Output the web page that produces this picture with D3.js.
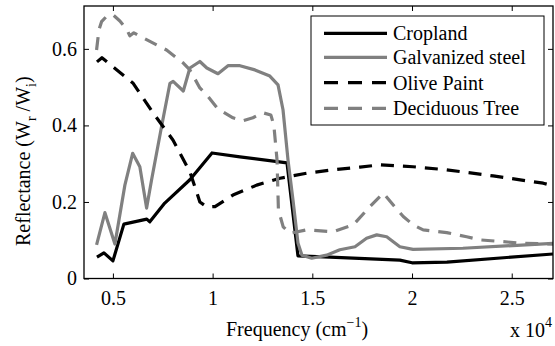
<!DOCTYPE html>
<html>
<head>
  <meta charset="utf-8">
  <script src="https://d3js.org/d3.v7.min.js"></script>
</head>
<body style="margin:0">
<script>
  // frequency (cm^-1), reflectance
  var cropland = [[4200,0.056],[4550,0.067],[5000,0.046],[5550,0.142],[6700,0.155],[6850,0.148],
    [7600,0.197],[8860,0.258],[9970,0.328],[11370,0.318],[13730,0.302],[14280,0.059],
    [15880,0.056],[19390,0.048],[20000,0.041],[21750,0.043],[27070,0.064]];
  var steel = [[4180,0.088],[4600,0.172],[5100,0.090],[5600,0.244],[5990,0.327],[6350,0.292],
    [6690,0.184],[6940,0.258],[7440,0.397],[7860,0.510],[8020,0.515],[8530,0.490],[8860,0.550],
    [9360,0.567],[9710,0.550],[10270,0.535],[10770,0.556],[11370,0.556],[12120,0.545],
    [12870,0.529],[13280,0.506],[13530,0.441],[13780,0.310],[14030,0.205],[14280,0.093],
    [14480,0.061],[14970,0.053],[15720,0.061],[16380,0.075],[17140,0.083],[17720,0.105],
    [18230,0.114],[18730,0.109],[19390,0.083],[20050,0.076],[22550,0.079],[27070,0.092]];
  var olive = [[4200,0.566],[4450,0.577],[5000,0.553],[6000,0.511],[7010,0.433],[8010,0.362],
    [8860,0.279],[9360,0.200],[9710,0.187],[10120,0.188],[11020,0.218],[12210,0.244],
    [13380,0.262],[14710,0.275],[16050,0.284],[17390,0.291],[18390,0.297],[20050,0.292],
    [21740,0.284],[24070,0.268],[26580,0.249],[27070,0.242]];
  var tree = [[4180,0.597],[4300,0.650],[4430,0.671],[4700,0.686],[5000,0.689],[5350,0.673],
    [5700,0.650],[5850,0.634],[6050,0.642],[6500,0.629],[7690,0.597],[8530,0.563],[8860,0.545],
    [9360,0.498],[9700,0.480],[10270,0.443],[11020,0.420],[11520,0.412],[12020,0.420],
    [12520,0.433],[12920,0.427],[13070,0.401],[13230,0.310],[13300,0.179],[13540,0.135],
    [13880,0.118],[14710,0.127],[16050,0.122],[17050,0.140],[17890,0.188],[18560,0.223],
    [19060,0.192],[19560,0.162],[20060,0.140],[20560,0.127],[21740,0.120],[22740,0.109],
    [23400,0.101],[25580,0.092],[27070,0.090]];

  var seriesNames = ["Cropland", "Galvanized steel", "Olive Paint", "Deciduous Tree"];
  var seriesData = [cropland, steel, olive, tree];
  var seriesColor = ["#000", "#808080", "#000", "#808080"];
  var seriesDash = [null, null, "13 9", "13 9"];

  var xTicks = [5000, 10000, 15000, 20000, 25000];
  var xTickLabels = ["0.5", "1", "1.5", "2", "2.5"];
  var yTicks = [0, 0.2, 0.4, 0.6];
  var yTickLabels = ["0", "0.2", "0.4", "0.6"];

  var W = 555, H = 346;
  var L = 84, R = 553, T = 6, B = 278.5;
  var serif = "'Times New Roman', 'Liberation Serif', serif";

  var x = d3.scaleLinear().domain([3550, 27070]).range([L, R]);
  var y = d3.scaleLinear().domain([0, 0.712]).range([B, T]);

  var svg = d3.select("body").append("svg").attr("width", W).attr("height", H);

  svg.append("clipPath").attr("id", "clip")
    .append("rect").attr("x", L).attr("y", T).attr("width", R - L).attr("height", B - T);

  var line = d3.line().x(function (d) { return x(d[0]); }).y(function (d) { return y(d[1]); });

  var lines = svg.append("g").attr("clip-path", "url(#clip)");
  [0, 1, 2, 3].forEach(function (i) {
    lines.append("path")
      .attr("d", line(seriesData[i]))
      .attr("fill", "none")
      .attr("stroke", seriesColor[i])
      .attr("stroke-width", 3.2)
      .attr("stroke-linejoin", "round")
      .attr("stroke-dasharray", seriesDash[i]);
  });

  // axes
  var xAxis = d3.axisBottom(x).tickValues(xTicks).tickSizeInner(-5).tickSizeOuter(0)
    .tickFormat(function (d, i) { return xTickLabels[i]; }).tickPadding(12);
  var gx = svg.append("g").attr("transform", "translate(0," + B + ")").call(xAxis);
  var gxt = svg.append("g").attr("transform", "translate(0," + T + ")")
    .call(d3.axisTop(x).tickValues(xTicks).tickSizeInner(-5).tickSizeOuter(0).tickFormat(""));
  var yAxis = d3.axisLeft(y).tickValues(yTicks).tickSizeInner(-5).tickSizeOuter(0)
    .tickFormat(function (d, i) { return yTickLabels[i]; }).tickPadding(7);
  var gy = svg.append("g").attr("transform", "translate(" + L + ",0)").call(yAxis);
  var gyr = svg.append("g").attr("transform", "translate(" + R + ",0)")
    .call(d3.axisRight(y).tickValues(yTicks).tickSizeInner(-5).tickSizeOuter(0).tickFormat(""));
  [gx, gxt, gy, gyr].forEach(function (g) {
    g.select(".domain").remove();
    g.selectAll("line").attr("stroke", "#000").attr("stroke-width", 1);
    g.selectAll("text").style("font-family", serif).style("font-size", "20px").attr("fill", "#000");
  });

  svg.append("rect").attr("x", L).attr("y", T).attr("width", R - L).attr("height", B - T)
    .attr("fill", "none").attr("stroke", "#000").attr("stroke-width", 1.3);

  function txt(parent) {
    return parent.append("text").style("font-family", serif).style("font-size", "20px");
  }

  // axis labels
  var xl = txt(svg).attr("x", 226).attr("y", 336);
  xl.append("tspan").text("Frequency (cm");
  xl.append("tspan").attr("dy", -9).style("font-size", "14px").text("\u22121");
  xl.append("tspan").attr("dy", 9).text(")");

  var xm = txt(svg).attr("x", 510).attr("y", 337);
  xm.append("tspan").text("x 10");
  xm.append("tspan").attr("dy", -10).style("font-size", "14px").text("4");

  var yl = txt(svg).attr("transform", "translate(30,246) rotate(-90)");
  yl.append("tspan").text("Reflectance (W");
  yl.append("tspan").attr("dy", 6).style("font-size", "14px").text("r");
  yl.append("tspan").attr("dy", -6).text(" /W");
  yl.append("tspan").attr("dy", 6).style("font-size", "14px").text("i");
  yl.append("tspan").attr("dy", -6).text(")");

  // legend
  var lg = svg.append("g");
  lg.append("rect").attr("x", 311).attr("y", 16).attr("width", 233).attr("height", 109)
    .attr("fill", "#fff").attr("stroke", "#000").attr("stroke-width", 1);
  var rowY = [33.3, 57.3, 82.7, 108.3];
  seriesNames.forEach(function (name, i) {
    lg.append("line").attr("x1", 324).attr("x2", 387).attr("y1", rowY[i]).attr("y2", rowY[i])
      .attr("stroke", seriesColor[i]).attr("stroke-width", 3.2)
      .attr("stroke-dasharray", seriesDash[i] ? "14 10" : null);
    txt(lg).attr("x", 393).attr("y", rowY[i] + 7).text(name);
  });
</script>
</body>
</html>
